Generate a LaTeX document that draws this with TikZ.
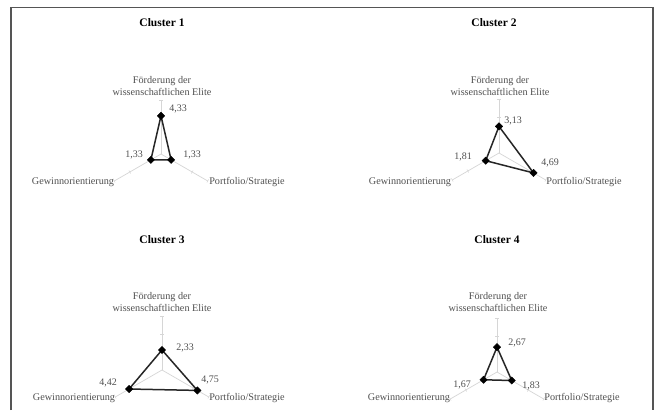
\documentclass[tikz,border=0pt]{standalone}
\usepackage{fontspec}
\setmainfont{Liberation Serif}
\usetikzlibrary{shapes.geometric,backgrounds}
\definecolor{frame}{HTML}{555555}
\definecolor{lab}{HTML}{505050}
\definecolor{axisc}{HTML}{D6D6D6}
\tikzset{
  ctitle/.style={font=\fontsize{11.5}{13}\selectfont\bfseries, text=black, inner sep=0pt},
  alabel/.style={font=\fontsize{10.2}{12.5}\selectfont, text=lab, inner sep=0pt, align=center},
  vlabel/.style={font=\fontsize{10}{12}\selectfont, text=lab, inner sep=0pt},
  axisline/.style={draw=axisc, line width=0.7pt},
  tickline/.style={draw=axisc, line width=0.5pt},
  datamark/.style={diamond, fill=black, draw=black, inner sep=0pt, minimum size=7.5pt},
  dataline/.style={draw=black!85, line width=1.5pt, line join=round},
  frameline/.style={draw=frame, line width=1.5pt}
}
% #1 prefix, #2 cx, #3 cy, #4 k, #5 top value, #6 left value, #7 right value
\newcommand\myradar[7]{%
  \coordinate (#1c) at (#2,#3);
  \coordinate (#1at) at (#2,{#3-54});
  \coordinate (#1al) at ({#2-54*0.866},{#3+27});
  \coordinate (#1ar) at ({#2+54*0.866},{#3+27});
  \draw[axisline] (#1c) -- (#1at);
  \draw[axisline] (#1c) -- (#1al);
  \draw[axisline] (#1c) -- (#1ar);
  \foreach \t in {36,54}{%
    \draw[tickline] ({#2-1.8},{#3-\t}) -- ({#2+1.8},{#3-\t});
    \draw[tickline] ({#2-\t*0.866+0.9},{#3+\t*0.5+1.56}) -- ({#2-\t*0.866-0.9},{#3+\t*0.5-1.56});
    \draw[tickline] ({#2+\t*0.866-0.9},{#3+\t*0.5+1.56}) -- ({#2+\t*0.866+0.9},{#3+\t*0.5-1.56});
  }
  \coordinate (#1pt) at (#2,{#3-#5*#4});
  \coordinate (#1pl) at ({#2-#6*#4*0.866},{#3+#6*#4*0.5});
  \coordinate (#1pr) at ({#2+#7*#4*0.866},{#3+#7*#4*0.5});
  \draw[dataline] (#1pt) -- (#1pr) -- (#1pl) -- cycle;
  \node[datamark] (#1t) at (#1pt) {};
  \node[datamark] (#1l) at (#1pl) {};
  \node[datamark] (#1r) at (#1pr) {};
}
\begin{document}
\begin{tikzpicture}[x=1pt,y=-1pt]
\useasboundingbox (0,0) rectangle (656,410);
\begin{scope}[on background layer]
\fill[white] (0,0) rectangle (656,410);
\end{scope}
% frame
\coordinate (fbl) at (11,410);
\coordinate (ftl) at (11,7.5);
\coordinate (ftr) at (653,7.5);
\coordinate (fbr) at (653,410);
\draw[frameline] (fbl) -- (ftl) -- (ftr) -- (fbr);

% Cluster 1
\node[ctitle] (t1) at (162,23) {Cluster 1};
\myradar{a}{161}{154}{8.8}{4.33}{1.33}{1.33}
\node[alabel] (a1) at (162,86) {Förderung der\\wissenschaftlichen Elite};
\node[alabel] (a2) at (73,182) {Gewinnorientierung};
\node[alabel] (a3) at (247,182) {Portfolio/Strategie};
\node[vlabel] (av1) at (178,109) {4,33};
\node[vlabel] (av2) at (134,155) {1,33};
\node[vlabel] (av3) at (192,155) {1,33};

% Cluster 2
\node[ctitle] (t2) at (494,23) {Cluster 2};
\myradar{b}{499}{153}{8.5}{3.13}{1.81}{4.69}
\node[alabel] (b1) at (500,86) {Förderung der\\wissenschaftlichen Elite};
\node[alabel] (b2) at (410,182) {Gewinnorientierung};
\node[alabel] (b3) at (584,182) {Portfolio/Strategie};
\node[vlabel] (bv1) at (513,121) {3,13};
\node[vlabel] (bv2) at (463,157) {1,81};
\node[vlabel] (bv3) at (550,163) {4,69};

% Cluster 3
\node[ctitle] (t3) at (162,240) {Cluster 3};
\myradar{c}{162}{370}{8.6}{2.33}{4.42}{4.75}
\node[alabel] (c1) at (162,302) {Förderung der\\wissenschaftlichen Elite};
\node[alabel] (c2) at (74,398) {Gewinnorientierung};
\node[alabel] (c3) at (247,398) {Portfolio/Strategie};
\node[vlabel] (cv1) at (185,348) {2,33};
\node[vlabel] (cv2) at (108,383) {4,42};
\node[vlabel] (cv3) at (210,380) {4,75};

% Cluster 4
\node[ctitle] (t4) at (497,240) {Cluster 4};
\myradar{d}{497}{372}{9.3}{2.67}{1.67}{1.83}
\node[alabel] (d1) at (498,302) {Förderung der\\wissenschaftlichen Elite};
\node[alabel] (d2) at (409,398) {Gewinnorientierung};
\node[alabel] (d3) at (582,398) {Portfolio/Strategie};
\node[vlabel] (dv1) at (517,343) {2,67};
\node[vlabel] (dv2) at (462,385) {1,67};
\node[vlabel] (dv3) at (531,386) {1,83};
\end{tikzpicture}
\end{document}
